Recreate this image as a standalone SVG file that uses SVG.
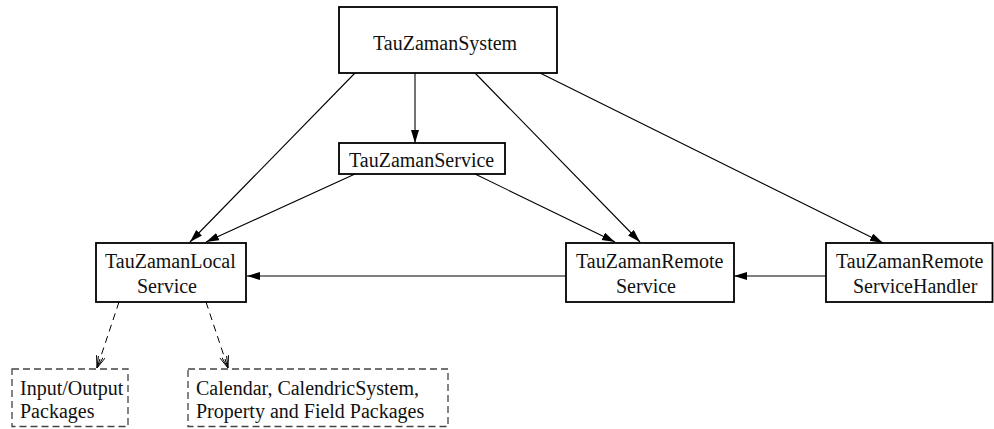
<svg xmlns="http://www.w3.org/2000/svg" width="994" height="429" viewBox="0 0 994 429">
  <style>
    .box { fill: #fff; stroke: #000; stroke-width: 1.8; }
    .pkg { fill: none; stroke: #444; stroke-width: 1.3; stroke-dasharray: 7 4; }
    .lbl { font-family: "Liberation Serif", "Times New Roman", serif; font-size: 20px; fill: #111; }
    .edge { stroke: #000; stroke-width: 1.1; fill: none; marker-end: url(#solid); }
    .dep { stroke: #000; stroke-width: 1; fill: none; stroke-dasharray: 7 5; marker-end: url(#open); }
  </style>
  <defs>
    <marker id="solid" markerUnits="userSpaceOnUse" markerWidth="14" markerHeight="9" refX="13" refY="4" orient="auto">
      <path d="M0,0 L13,4 L0,8 z" fill="#000"/>
    </marker>
    <marker id="open" markerUnits="userSpaceOnUse" markerWidth="14" markerHeight="10" refX="12" refY="4.5" orient="auto">
      <path d="M0,0 L12,4.5 L0,9 M0,2 L12,4.5 L0,7" fill="none" stroke="#000" stroke-width="0.9"/>
    </marker>
  </defs>

  <!-- connectors -->
  <g id="connectors">
    <line class="edge" x1="415" y1="73" x2="415" y2="143"/>
    <line class="edge" x1="355" y1="73" x2="190" y2="242"/>
    <line class="edge" x1="355" y1="174" x2="206" y2="242"/>
    <line class="edge" x1="475" y1="174" x2="615" y2="242"/>
    <line class="edge" x1="475" y1="73" x2="640" y2="242"/>
    <line class="edge" x1="540" y1="73" x2="883" y2="243"/>
    <line class="edge" x1="566" y1="276" x2="247" y2="276"/>
    <line class="edge" x1="826" y1="276" x2="734" y2="276"/>
    <line class="dep" x1="119" y1="302" x2="97" y2="368"/>
    <line class="dep" x1="206" y1="302" x2="228" y2="368"/>
  </g>

  <g id="system">
    <rect class="box" x="339" y="7" width="218" height="66"/>
    <text class="lbl" x="373" y="50">TauZamanSystem</text>
  </g>

  <g id="service">
    <rect class="box" x="339" y="143" width="166" height="31"/>
    <text class="lbl" x="349" y="166.5">TauZamanService</text>
  </g>

  <g id="local-service">
    <rect class="box" x="96" y="243" width="150" height="59"/>
    <text class="lbl" x="105" y="268">TauZamanLocal</text>
    <text class="lbl" x="137" y="292.5">Service</text>
  </g>

  <g id="remote-service">
    <rect class="box" x="566" y="243" width="168" height="59"/>
    <text class="lbl" x="576" y="268">TauZamanRemote</text>
    <text class="lbl" x="616" y="292.5">Service</text>
  </g>

  <g id="remote-handler">
    <rect class="box" x="826" y="243" width="166.5" height="59"/>
    <text class="lbl" x="836" y="268">TauZamanRemote</text>
    <text class="lbl" x="853" y="292.5">ServiceHandler</text>
  </g>

  <g id="io-packages">
    <rect class="pkg" x="12" y="369" width="116" height="57.5"/>
    <text class="lbl" x="20" y="395">Input/Output</text>
    <text class="lbl" x="20" y="418">Packages</text>
  </g>

  <g id="calendar-packages">
    <rect class="pkg" x="188" y="369" width="260" height="57.5"/>
    <text class="lbl" x="196" y="395">Calendar, CalendricSystem,</text>
    <text class="lbl" x="196" y="418">Property and Field Packages</text>
  </g>
</svg>
